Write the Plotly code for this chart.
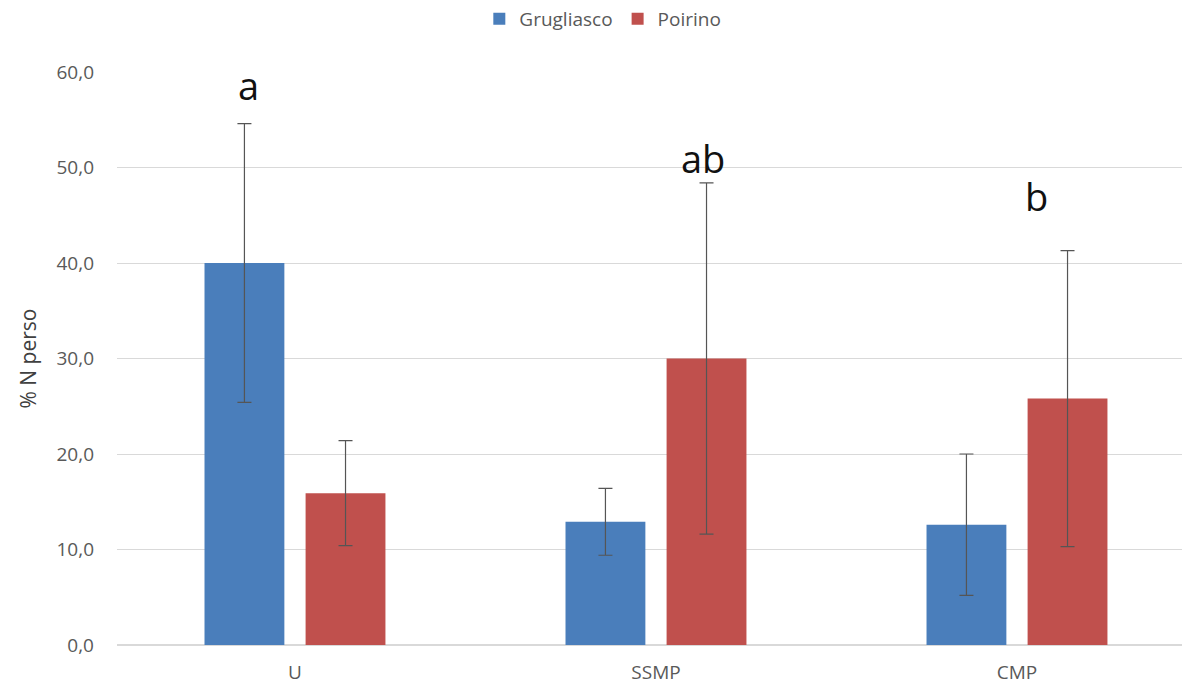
import plotly.graph_objects as go

# Percentage of nitrogen lost per treatment, two sites, with standard deviations
categories = ["U", "SSMP", "CMP"]
grugliasco = [40.0, 12.9, 12.6]
grugliasco_sd = [14.6, 3.5, 7.4]
poirino = [15.9, 30.0, 25.8]
poirino_sd = [5.5, 18.4, 15.5]

# Significance letters placed above the groups
letters = ["a", "ab", "b"]
letter_x = [-0.13, 1.13, 2.055]
letter_y = [58.6, 51.0, 47.0]

BLUE = "#4a7ebb"
RED = "#c0504d"
ERR = "#555555"

fig = go.Figure()
fig.add_trace(go.Bar(
    name="Grugliasco", x=categories, y=grugliasco, marker_color=BLUE,
    marker_line_width=0,
    error_y=dict(type="data", array=grugliasco_sd, color=ERR, thickness=1.2, width=7),
))
fig.add_trace(go.Bar(
    name="Poirino", x=categories, y=poirino, marker_color=RED,
    marker_line_width=0,
    error_y=dict(type="data", array=poirino_sd, color=ERR, thickness=1.2, width=7),
))

for t, xx, yy in zip(letters, letter_x, letter_y):
    fig.add_annotation(x=xx, y=yy, xref="x", yref="y", text=t, showarrow=False,
                       font=dict(family="Open Sans, sans-serif", size=38, color="#111111"),
                       yanchor="middle", xanchor="center")

fig.update_layout(
    width=1182, height=685,
    margin=dict(l=117, r=0, t=72, b=40),
    paper_bgcolor="white", plot_bgcolor="white",
    barmode="group", bargap=0.44, bargroupgap=0.21,
    font=dict(family="Open Sans, sans-serif", color="#595959"),
    separators=", ",
    showlegend=True,
    legend=dict(orientation="h", x=0.51, xanchor="center", xref="container",
                y=1.0, yref="container", yanchor="top",
                font=dict(size=19, color="#595959"), itemwidth=30,
                traceorder="normal"),
    xaxis=dict(range=[-0.4930, 2.4571], showgrid=False, showline=True,
               linecolor="#d9d9d9", linewidth=1, ticks="",
               ticklabelstandoff=10,
               tickfont=dict(size=19, color="#595959")),
    yaxis=dict(range=[0, 60], dtick=10, tickformat=".1f",
               showgrid=True, gridcolor="#d9d9d9", gridwidth=1,
               zeroline=True, zerolinecolor="#d9d9d9", showline=False,
               ticks="", ticklabelstandoff=22,
               tickfont=dict(size=19, color="#595959"),
               title=dict(text="% N perso", font=dict(size=21, color="#404040"),
                          standoff=14)),
)

fig.write_html("out.html")
